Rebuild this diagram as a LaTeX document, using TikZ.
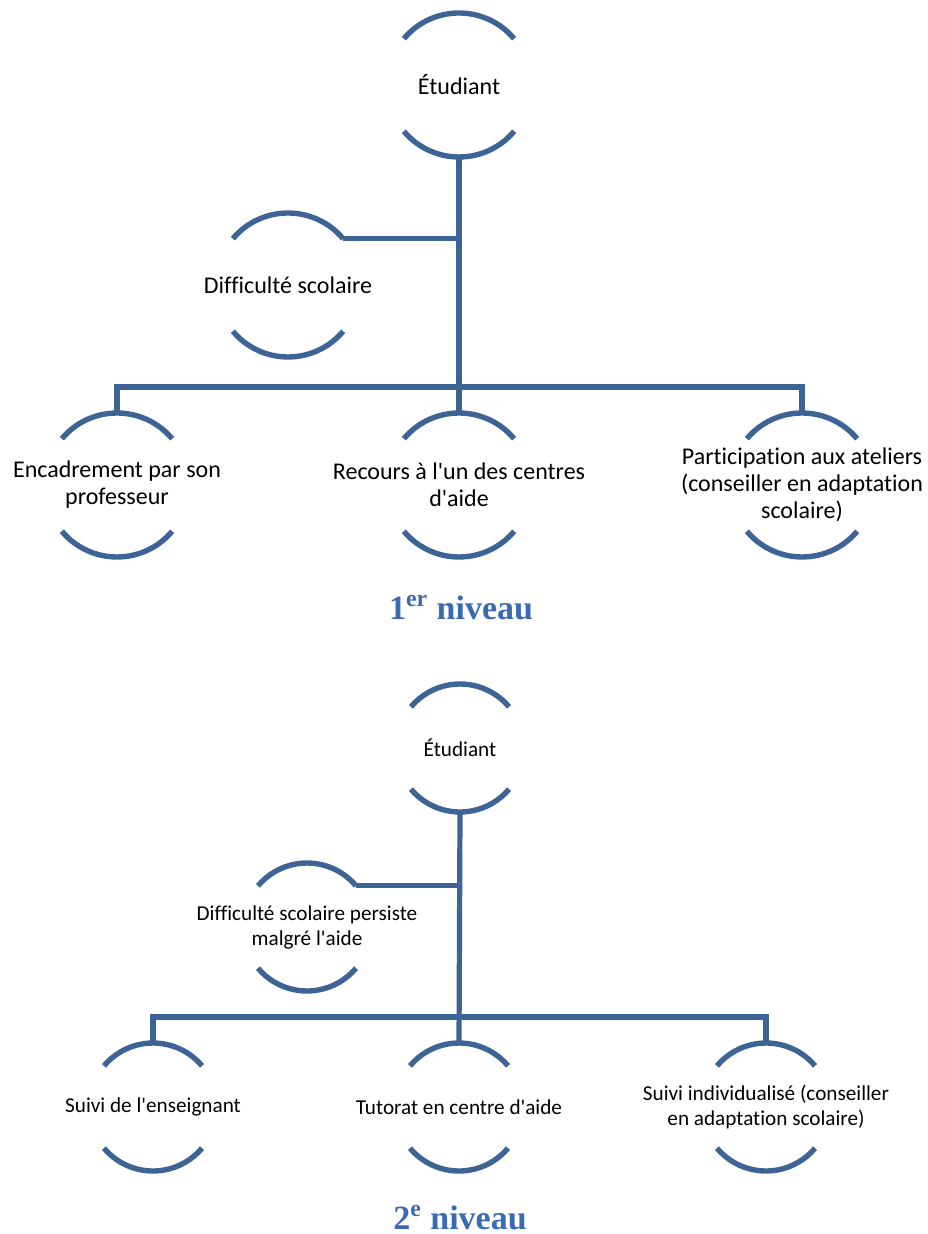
\documentclass[tikz,border=0pt]{standalone}
\usepackage{fontspec}
\setmainfont{Carlito}[Ligatures=NoCommon]
\newfontfamily\titlefont{Liberation Serif}
\definecolor{ringblue}{RGB}{62,100,150}
\definecolor{titleblue}{RGB}{58,106,176}
\tikzset{
  ring/.style={circle, minimum size=#1, inner sep=0pt, outer sep=0pt},
  ringline/.style={draw=ringblue, line width=2.7pt},
  link/.style={draw=ringblue, line width=2.6pt},
  big/.style={align=center, font=\fontsize{12}{13.5}\selectfont},
  small/.style={align=center, font=\fontsize{10.6}{12.5}\selectfont},
  title/.style={font=\titlefont\bfseries\fontsize{17}{20}\selectfont, text=titleblue, anchor=base},
}
\newcommand{\ap}{\textquotesingle}
% top and bottom arcs of a ring node
\newcommand{\ringarcs}[2]{%
  \draw[ringline] (#1.40) arc[start angle=40, end angle=140, radius=#2];
  \draw[ringline] (#1.220) arc[start angle=220, end angle=320, radius=#2];}

\begin{document}
\begin{tikzpicture}[x=0.5pt, y=0.5pt]
    \useasboundingbox (0,0) rectangle (927,-1234);
    %%%1ER NIVEAU%%%
    %rings
    \node[ring=72pt, label={[big]center:Étudiant}] (etu1) at (459,-85) {};
    \node[ring=72pt, label={[big]center:Difficulté scolaire}] (diff1) at (288,-285) {};
    \node[ring=72pt, label={[big]center:{Encadrement par son\\professeur}}] (enc) at (117,-485) {};
    \node[ring=72pt, label={[big]center:{Recours à l\ap un des centres\\d\ap aide}}] (rec) at (459,-485) {};
    \node[ring=72pt, label={[big]center:{Participation aux ateliers\\(conseiller en adaptation\\scolaire)}}] (part) at (802,-485) {};
    \foreach \n in {etu1,diff1,enc,rec,part} {\ringarcs{\n}{36pt}}
    %connectors
    \coordinate (bar1) at (459,-387);
    \draw[link] (etu1.south) -- (rec.north);
    \draw[link] (diff1.40) -- (diff1.40 -| etu1.south);
    \draw[link] (enc.north) |- (bar1) -| (part.north);
    %title
    \node[title] (niv1) at (461,-619) {1\textsuperscript{er} niveau};

    %%%2E NIVEAU%%%
    %rings
    \node[ring=64pt, label={[small]center:Étudiant}] (etu2) at (460,-748) {};
    \node[ring=64pt, label={[small]center:{Difficulté scolaire persiste\\malgré l\ap aide}}] (diff2) at (307,-927) {};
    \node[ring=64pt, label={[small]center:Suivi de l\ap enseignant}] (suiv) at (153,-1107) {};
    \node[ring=64pt, label={[small]center:Tutorat en centre d\ap aide}] (tut) at (459,-1107) {};
    \node[ring=64pt, label={[small]center:{Suivi individualisé (conseiller\\en adaptation scolaire)}}] (indiv) at (766,-1107) {};
    \foreach \n in {etu2,diff2,suiv,tut,indiv} {\ringarcs{\n}{32pt}}
    %connectors
    \coordinate (bar2) at (459,-1017);
    \draw[link] (etu2.south) -- (tut.north);
    \draw[link] (diff2.40) -- (diff2.40 -| etu2.south);
    \draw[link] (suiv.north) |- (bar2) -| (indiv.north);
    %title
    \node[title] (niv2) at (460,-1229) {2\textsuperscript{e} niveau};
\end{tikzpicture}
\end{document}
